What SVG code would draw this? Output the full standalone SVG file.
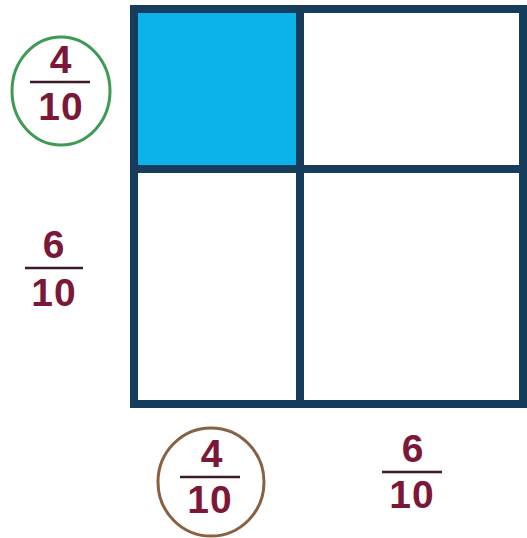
<svg xmlns="http://www.w3.org/2000/svg" width="527" height="538" viewBox="0 0 527 538">
<style>
.num{font-family:"Liberation Sans",Arial,sans-serif;font-weight:bold;font-size:39px;fill:#7b1838;text-anchor:middle;letter-spacing:1px}
.bar{stroke:#3d1a28;stroke-width:2.5}
.grid{fill:none;stroke:#163d5c;stroke-width:8}
</style>
<rect width="527" height="538" fill="#ffffff"/>
<g id="grid">
<rect x="134" y="9" width="166" height="160" fill="#0bb3ea"/>
<rect class="grid" x="134" y="9" width="389" height="395"/>
<line class="grid" x1="300" y1="9" x2="300" y2="404"/>
<line class="grid" x1="134" y1="169" x2="523" y2="169"/>
</g>
<g id="label-left-top">
<ellipse cx="61" cy="91" rx="49" ry="54" fill="none" stroke="#3f9a52" stroke-width="3"/>
<text class="num" x="61" y="73">4</text>
<line class="bar" x1="30" y1="82" x2="90" y2="82"/>
<text class="num" x="61" y="120">10</text>
</g>
<g id="label-left-bottom">
<text class="num" x="54" y="258">6</text>
<line class="bar" x1="25" y1="268" x2="83" y2="268"/>
<text class="num" x="54" y="306">10</text>
</g>
<g id="label-bottom-left">
<ellipse cx="211" cy="482" rx="53" ry="54" fill="none" stroke="#8a6042" stroke-width="3"/>
<text class="num" x="212" y="467">4</text>
<line class="bar" x1="180" y1="477" x2="240" y2="477"/>
<text class="num" x="210" y="513">10</text>
</g>
<g id="label-bottom-right">
<text class="num" x="413" y="462">6</text>
<line class="bar" x1="382" y1="472" x2="442" y2="472"/>
<text class="num" x="412" y="508">10</text>
</g>
</svg>
